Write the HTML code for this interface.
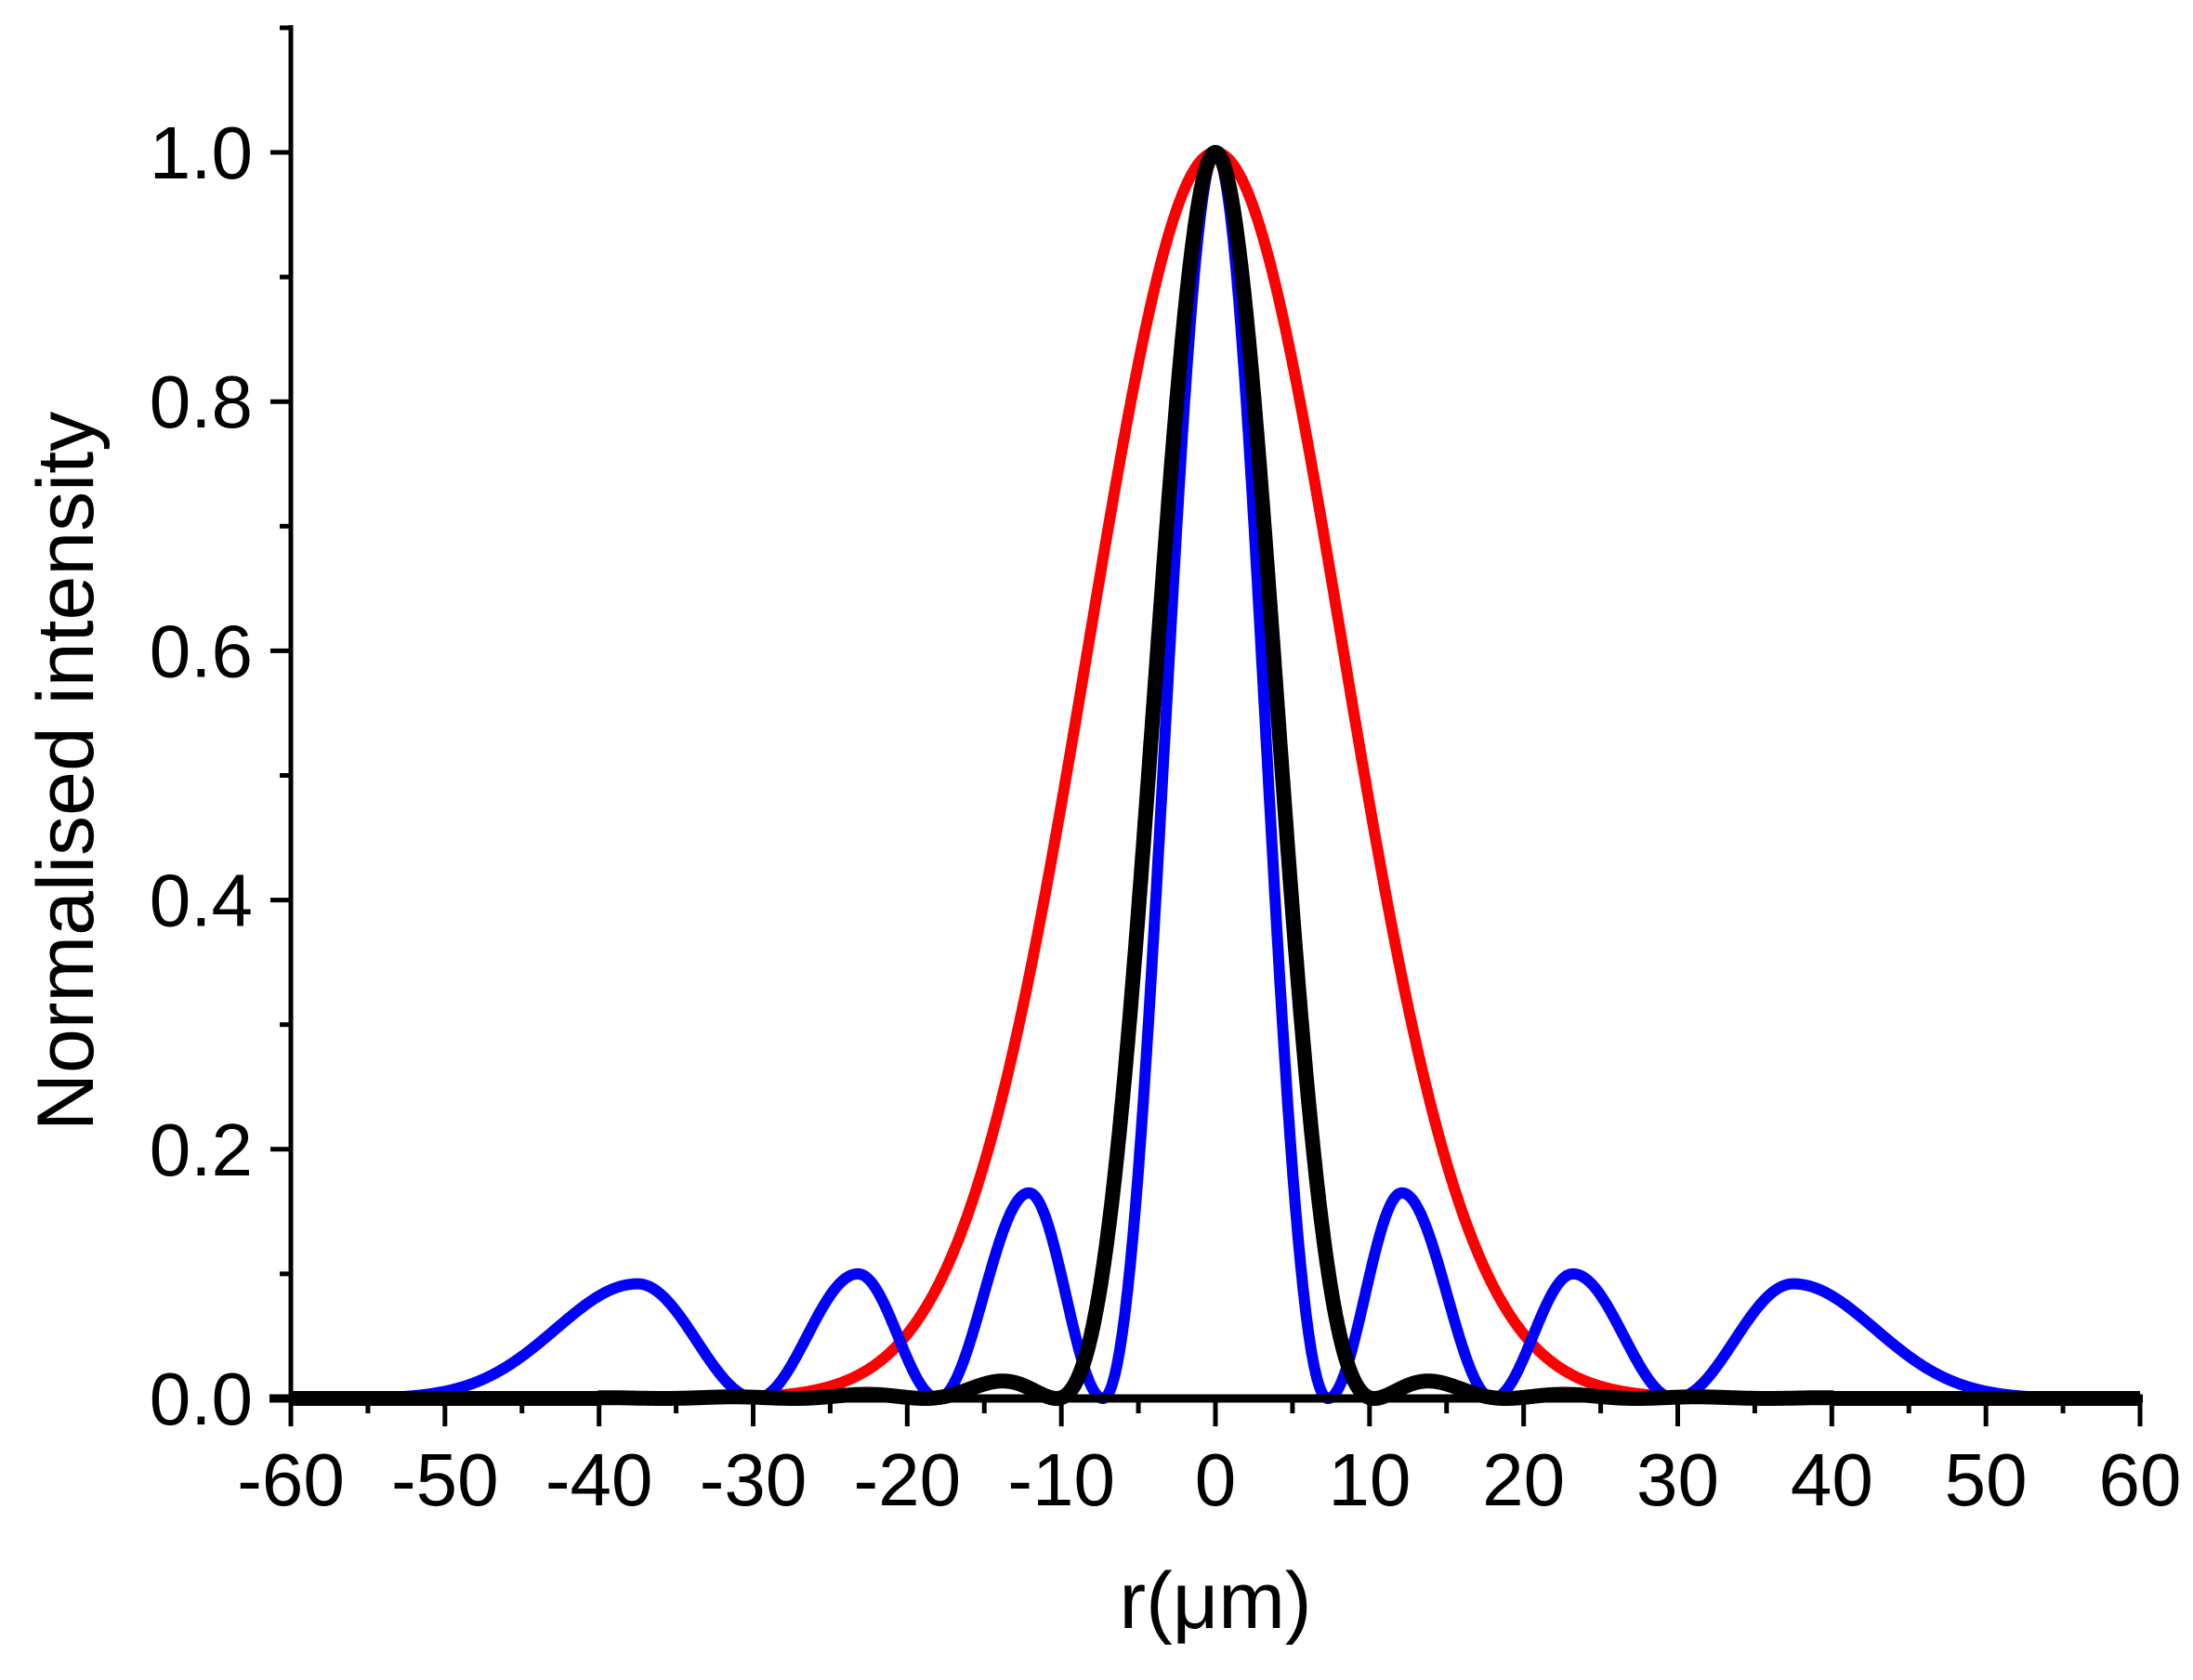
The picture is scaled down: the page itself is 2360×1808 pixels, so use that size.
<!DOCTYPE html>
<html><head><meta charset="utf-8"><style>
html,body{margin:0;padding:0;background:#fff;}
svg{display:block;}
text{font-family:"Liberation Sans",Arial,sans-serif;fill:#000;}
</style></head><body>
<svg id="s" width="2360" height="1808" xmlns="http://www.w3.org/2000/svg">
<g id="curves"></g>
<g id="axes"></g>
<text x="1308" y="1752" font-size="86" text-anchor="middle">r(μm)</text>
<text transform="translate(100,830) rotate(-90)" font-size="86" text-anchor="middle">Normalised intensity</text>
</svg>
<script>
var X0=313,X1=2303,Y0=1505,Y1=164;
function px(x){return X0+(x+60)*(X1-X0)/120;}
function py(y){return Y0-y*(Y0-Y1);}
function path(f,col,w){var d="";for(var x=-60;x<=60.0001;x+=0.05){d+=(d?"L":"M")+px(x).toFixed(1)+","+py(f(x)).toFixed(1);}
return '<path d="'+d+'" fill="none" stroke="'+col+'" stroke-width="'+w+'" stroke-linejoin="round"/>';}
function red(x){return Math.exp(-x*x/135);}
function hump(x,a,p,b,A){if(x<a||x>b)return 0;var t=x<p?(x-a)/(p-a)*Math.PI/2:Math.PI/2+(x-p)/(b-p)*Math.PI/2;var s=Math.sin(t);return A*s*s;}
function blue(x){var u=Math.abs(x);
 if(u<7.3){var z=u/7.3*2.405,j=J0(z);return j*j;}
 if(u>=37.5){return 0.092*Math.exp(-Math.pow((u-37.5)/7.5,2));}
 if(u>=29.8){var s=Math.sin((u-29.8)/7.7*Math.PI/2);return 0.092*s*s;}
 return hump(u,7.3,12.1,18,0.165)+hump(u,18,23.2,29.8,0.1);}
function J0(z){var s=0,t=1;for(var k=0;k<40;k++){s+=t;t*=-(z*z/4)/((k+1)*(k+1));}return s;}
function J1(z){var s=0,t=z/2;for(var k=0;k<60;k++){s+=t;t*=-(z*z/4)/((k+1)*(k+2));}return s;}
function black(x){var z=Math.abs(x)*3.8317/10.3;if(z<1e-6)return 1;var v=2*J1(z)/z;if(Math.abs(x)>40)return 0;return v*v*0.8+ (Math.abs(x)<10.3?0.2*v*v:0);}
document.getElementById("curves").innerHTML=path(red,"#ff0000",12)+path(blue,"#0000ff",12)+path(black,"#000",16);
var a="";
a+='<line x1="'+X0+'" y1="27" x2="'+X0+'" y2="1532" stroke="#000" stroke-width="5"/>';
a+='<line x1="290" y1="1505" x2="2306" y2="1505" stroke="#000" stroke-width="9"/>';
for(var i=0;i<=11;i++){var y=py(i/10),L=(i%2==0)?22:12;a+='<line x1="'+(X0-L)+'" y1="'+y+'" x2="'+X0+'" y2="'+y+'" stroke="#000" stroke-width="5"/>';
 if(i%2==0)a+='<text x="272" y="'+(y+28)+'" font-size="80" text-anchor="end">'+(i/10).toFixed(1)+'</text>';}
for(var v=-60;v<=60;v+=5){var x=px(v),L=(v%10==0)?30:16;a+='<line x1="'+x+'" y1="1505" x2="'+x+'" y2="'+(1505+L)+'" stroke="#000" stroke-width="5"/>';
 if(v%10==0)a+='<text x="'+x+'" y="1620" font-size="80" text-anchor="middle">'+v+'</text>';}
document.getElementById("axes").innerHTML=a;
</script>
</body></html>
